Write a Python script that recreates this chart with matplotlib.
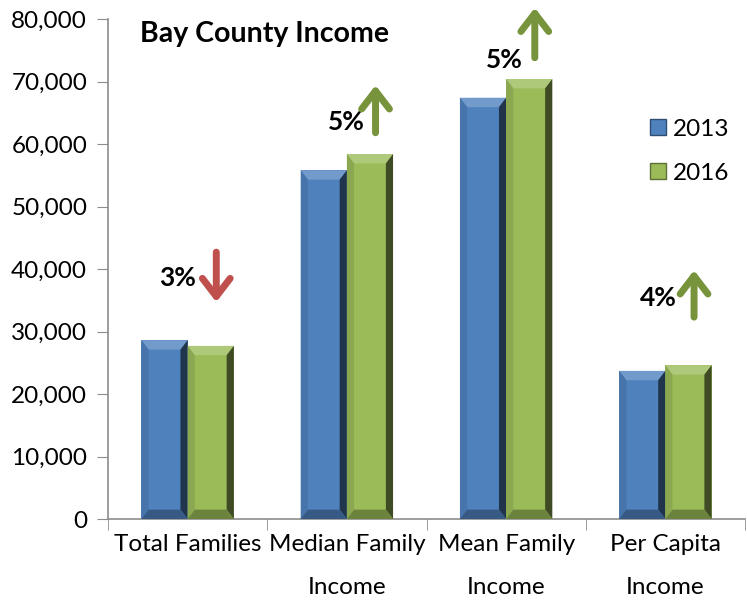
import numpy as np
import matplotlib.pyplot as plt
from matplotlib.patches import Polygon, FancyArrowPatch
from matplotlib.ticker import FuncFormatter, FixedLocator
from matplotlib.lines import Line2D

plt.rcParams['font.family'] = ['Lato', 'DejaVu Sans']

categories = ['Total Families', 'Median Family\nIncome', 'Mean Family\nIncome', 'Per Capita\nIncome']
years = ['2013', '2016']
vals_2013 = [28600, 55800, 67400, 23700]
vals_2016 = [27700, 58400, 70400, 24600]
changes = ['3%', '5%', '5%', '4%']
# arrow tail / head heights and label height (data units)
arrow_tail = [42700, 61800, 73800, 32300]
arrow_head = [34700, 69400, 81800, 39800]
label_y = [38600, 63500, 73400, 35400]
label_gap = [0.125, 0.07, 0.075, 0.11]

blue = '#4F81BD'
green = '#9BBB59'
red_arrow = '#C0504D'
green_arrow = '#77933C'


def shade(c, f):
    c = np.array(plt.matplotlib.colors.to_rgb(c))
    if f > 0:
        return tuple(c + (1 - c) * f)
    return tuple(c * (1 + f))


fig = plt.figure(figsize=(7.47, 6.0), dpi=100)
ax = fig.add_axes([108 / 747, 81 / 600, 637 / 747, 500 / 600])

x = np.arange(len(categories))
w = 0.29
bars1 = ax.bar(x - w / 2, vals_2013, w, color=blue, zorder=2)
bars2 = ax.bar(x + w / 2, vals_2016, w, color=green, zorder=2)

ax.set_xlim(-0.5, len(categories) - 0.5)
ax.set_ylim(0, 80000)

# bevel look on each bar
bx = 0.045
by = 1500
for bars, col in [(bars1, blue), (bars2, green)]:
    for b in bars:
        x0, y0 = b.get_x(), 0
        x1, y1 = x0 + b.get_width(), b.get_height()
        faces = [
            ([(x0, y1), (x1, y1), (x1 - bx, y1 - by), (x0 + bx, y1 - by)], shade(col, 0.2)),
            ([(x0, y0), (x0 + bx, y0 + by), (x0 + bx, y1 - by), (x0, y1)], shade(col, -0.1)),
            ([(x1, y0), (x1, y1), (x1 - bx, y1 - by), (x1 - bx, y0 + by)], shade(col, -0.6)),
            ([(x0, y0), (x1, y0), (x1 - bx, y0 + by), (x0 + bx, y0 + by)], shade(col, -0.3)),
        ]
        for pts, fc in faces:
            ax.add_patch(Polygon(pts, closed=True, facecolor=fc, edgecolor='none', zorder=3))

# change arrows and labels
for i in range(len(categories)):
    ax_x = x[i] + 0.18
    down = arrow_head[i] < arrow_tail[i]
    col = red_arrow if down else green_arrow
    arr = FancyArrowPatch((ax_x, arrow_tail[i]), (ax_x, arrow_head[i]),
                          arrowstyle='->,head_length=0.65,head_width=0.5',
                          mutation_scale=20, color=col, lw=5, joinstyle='round',
                          capstyle='round', shrinkA=0, shrinkB=0, zorder=4, clip_on=False)
    ax.add_patch(arr)
    ax.text(ax_x - label_gap[i], label_y[i], changes[i], ha='right', va='center',
            fontsize=19, fontweight='bold', color='black')

ax.text(0.05, 0.97, 'Bay County Income', transform=ax.transAxes,
        ha='left', va='center', fontsize=20.5, fontweight='bold')

for s in ['top', 'right']:
    ax.spines[s].set_visible(False)
for s in ['left', 'bottom']:
    ax.spines[s].set_color('#8C8C8C')
    ax.spines[s].set_linewidth(1.2)

ax.yaxis.set_major_locator(FixedLocator(np.arange(0, 80001, 10000)))
ax.yaxis.set_major_formatter(FuncFormatter(lambda v, p: f'{int(v):,}'))
ax.tick_params(axis='y', direction='out', length=8, color='#8C8C8C', labelsize=17.5, pad=7)

ax.set_xticks(x)
ax.set_xticklabels(categories, fontsize=17.5, linespacing=2.3)
ax.tick_params(axis='x', which='major', length=0, pad=11)
ax.set_xticks(np.arange(-0.5, len(categories)), minor=True)
ax.tick_params(axis='x', which='minor', direction='out', length=8, color='#8C8C8C')

handles = [Line2D([], [], marker='s', ls='none', markersize=11, markerfacecolor=c,
                  markeredgecolor=shade(c, -0.4)) for c in (blue, green)]
fig.legend(handles, years, loc='upper left', bbox_to_anchor=(624 / 747, 1 - 97 / 600),
           frameon=False, fontsize=17.5, handletextpad=0.1, labelspacing=0.95, handlelength=1.0)

fig.savefig('out.png', dpi=100)
